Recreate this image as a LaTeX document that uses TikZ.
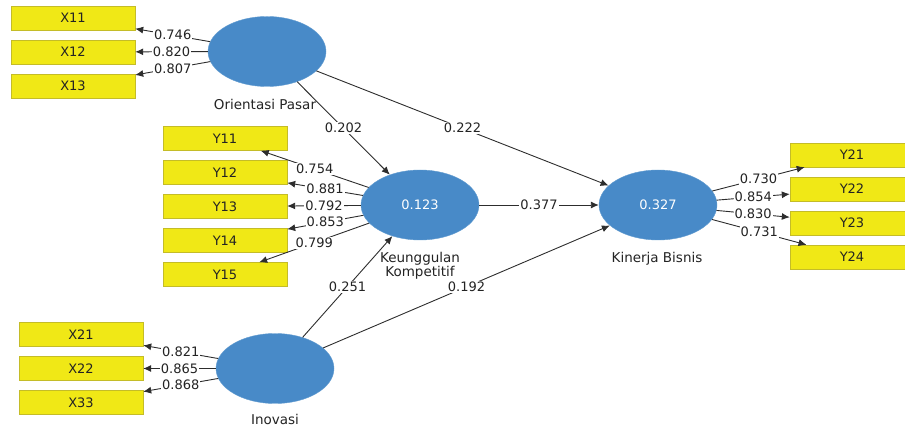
\documentclass[tikz,border=0pt]{standalone}
\usepackage{fontspec}
\setmainfont{DejaVu Sans}
\usetikzlibrary{shapes.geometric,arrows.meta}

\begin{document}
\begin{tikzpicture}[x=1pt, y=-1pt,
    indicator/.style={draw=Bline, fill=Byellow, shape=rectangle, minimum width=124pt, minimum height=24pt, inner sep=0pt, font=\fontsize{13}{15}\selectfont, text=Tdark},
    latent/.style={shape=ellipse, fill=Lblue, draw=Lblue!85!white, minimum width=118pt, minimum height=70pt, inner sep=0pt, text=white, font=\fontsize{13}{15}\selectfont},
    lvname/.style={font=\fontsize{13.5}{14}\selectfont, text=Tdark, align=center},
    path/.style={draw=Pline, line width=0.9pt, -{Latex[length=8pt,width=7pt]}},
    coef/.style={midway, fill=white, inner sep=1pt, font=\fontsize{13}{14}\selectfont, text=Tdark}]
    \definecolor{Byellow}{RGB}{240, 232, 22}
    \definecolor{Bline}{RGB}{196, 188, 40}
    \definecolor{Lblue}{RGB}{72, 138, 200}
    \definecolor{Pline}{RGB}{45, 45, 45}
    \definecolor{Tdark}{RGB}{35, 35, 35}
    \useasboundingbox (0, 0) rectangle (905, 427);
    \def\leftx{73}
    \def\midx{225}
    \def\rightx{852}
    \def\lowx{81}

    % latent variables
    \node[latent] (OP) at (267, 51.5) {};
    \node[latent] (KK) at (420, 205) {0.123};
    \node[latent] (KB) at (658, 205) {0.327};
    \node[latent] (IN) at (275, 368.5) {};
    \node[lvname] (OPname) at (265, 104) {Orientasi Pasar};
    \node[lvname] (KKname) at (420, 266) {Keunggulan\\Kompetitif};
    \node[lvname] (KBname) at (657, 259) {Kinerja Bisnis};
    \node[lvname] (INname) at (275, 419) {Inovasi};

    % indicators
    \node[indicator] (X11) at (\leftx, 18) {X11};
    \node[indicator] (X12) at (\leftx, 52) {X12};
    \node[indicator] (X13) at (\leftx, 86) {X13};
    \node[indicator] (Y11) at (\midx, 138.5) {Y11};
    \node[indicator] (Y12) at (\midx, 172.5) {Y12};
    \node[indicator] (Y13) at (\midx, 206.5) {Y13};
    \node[indicator] (Y14) at (\midx, 240.5) {Y14};
    \node[indicator] (Y15) at (\midx, 274.5) {Y15};
    \node[indicator] (Y21) at (\rightx, 155) {Y21};
    \node[indicator] (Y22) at (\rightx, 189) {Y22};
    \node[indicator] (Y23) at (\rightx, 223) {Y23};
    \node[indicator] (Y24) at (\rightx, 257) {Y24};
    \node[indicator] (X21) at (\lowx, 334.5) {X21};
    \node[indicator] (X22) at (\lowx, 368.5) {X22};
    \node[indicator] (X33) at (\lowx, 402.5) {X33};

    % outer loadings
    \draw[path] (OP) -- node[coef] {0.746} (X11);
    \draw[path] (OP) -- node[coef] {0.820} (X12);
    \draw[path] (OP) -- node[coef] {0.807} (X13);
    \draw[path] (KK) -- node[coef] {0.754} (Y11);
    \draw[path] (KK) -- node[coef] {0.881} (Y12);
    \draw[path] (KK) -- node[coef] {0.792} (Y13);
    \draw[path] (KK) -- node[coef] {0.853} (Y14);
    \draw[path] (KK) -- node[coef] {0.799} (Y15);
    \draw[path] (KB) -- node[coef] {0.730} (Y21);
    \draw[path] (KB) -- node[coef] {0.854} (Y22);
    \draw[path] (KB) -- node[coef] {0.830} (Y23);
    \draw[path] (KB) -- node[coef] {0.731} (Y24);
    \draw[path] (IN) -- node[coef] {0.821} (X21);
    \draw[path] (IN) -- node[coef] {0.865} (X22);
    \draw[path] (IN) -- node[coef] {0.868} (X33);

    % inner model
    \draw[path] (OP) -- node[coef] {0.202} (KK);
    \draw[path] (OP) -- node[coef] {0.222} (KB);
    \draw[path] (KK) -- node[coef] {0.377} (KB);
    \draw[path] (IN) -- node[coef] {0.251} (KK);
    \draw[path] (IN) -- node[coef] {0.192} (KB);
\end{tikzpicture}
\end{document}
